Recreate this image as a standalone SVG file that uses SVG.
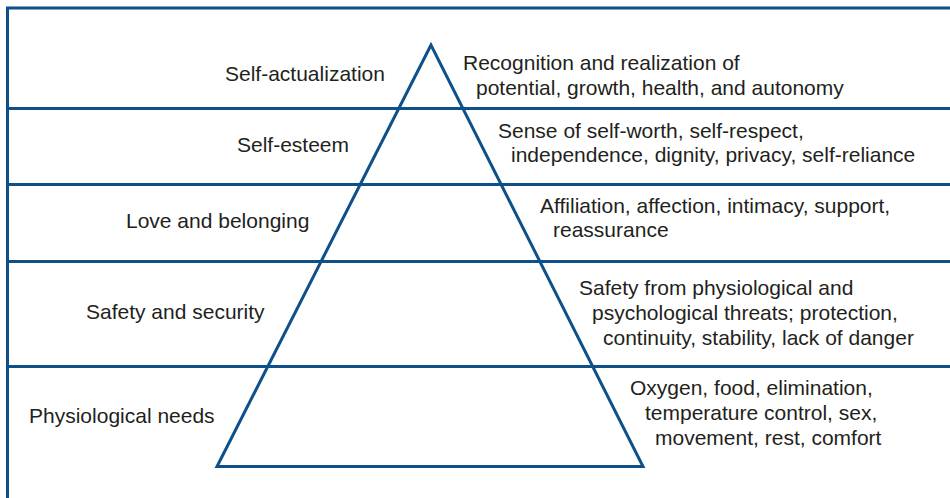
<svg xmlns="http://www.w3.org/2000/svg" width="950" height="498" viewBox="0 0 950 498">
<style>
.ln{stroke:#0e5089;stroke-width:3;fill:none}
text{font-family:"Liberation Sans",Arial,sans-serif;font-size:21px;fill:#231f20}
</style>
<rect width="950" height="498" fill="#fff"/>
<g id="frame">
<path class="ln" d="M7.5 498V8H950"/>
<path class="ln" d="M7.5 108.5H950M7.5 184.5H950M7.5 261.5H950M7.5 366.5H950"/>
</g>
<g id="pyramid">
<path class="ln" d="M431 45L217 466.5H643Z" stroke-linejoin="miter"/>
</g>
<g id="level-self-actualization">
<text x="225" y="81">Self-actualization</text>
<text x="463" y="70">Recognition and realization of</text>
<text x="476" y="95">potential, growth, health, and autonomy</text>
</g>
<g id="level-self-esteem">
<text x="237" y="152">Self-esteem</text>
<text x="498" y="138">Sense of self-worth, self-respect,</text>
<text x="511" y="162">independence, dignity, privacy, self-reliance</text>
</g>
<g id="level-love">
<text x="126" y="228">Love and belonging</text>
<text x="540" y="213">Affiliation, affection, intimacy, support,</text>
<text x="553" y="237">reassurance</text>
</g>
<g id="level-safety">
<text x="86" y="319">Safety and security</text>
<text x="579" y="295">Safety from physiological and</text>
<text x="592" y="320">psychological threats; protection,</text>
<text x="603" y="345">continuity, stability, lack of danger</text>
</g>
<g id="level-physiological">
<text x="29" y="423">Physiological needs</text>
<text x="630" y="395">Oxygen, food, elimination,</text>
<text x="645" y="420">temperature control, sex,</text>
<text x="655" y="445">movement, rest, comfort</text>
</g>
</svg>
